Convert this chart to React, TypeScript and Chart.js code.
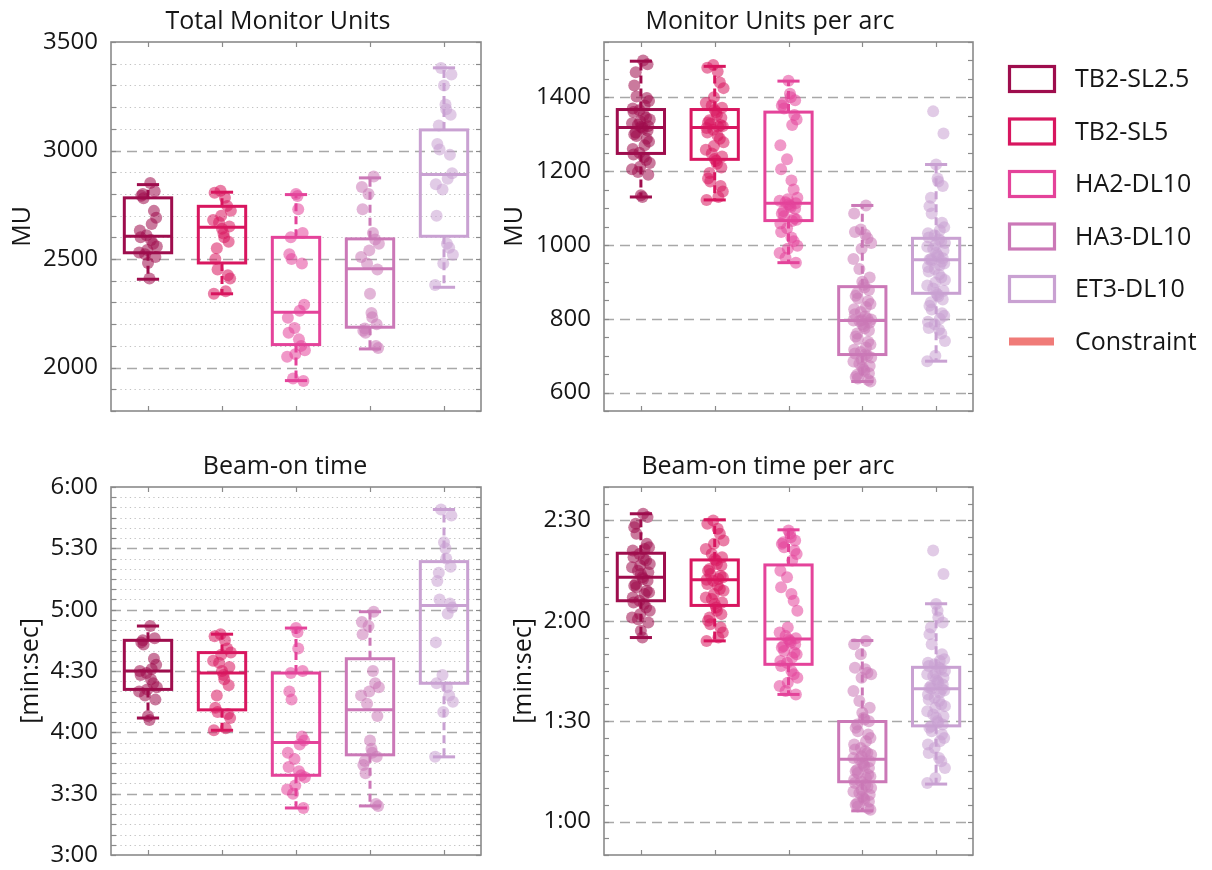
import { useEffect, useRef } from "react";
import { Chart, registerables } from "chart.js";

Chart.register(...registerables);

// ---------- groups ----------
const groupNames = ["TB2-SL2.5", "TB2-SL5", "HA2-DL10", "HA3-DL10", "ET3-DL10"];
const groupColors = ["#9e0d4d", "#d8165f", "#e4439a", "#cb78b7", "#c9a1d2"];
const constraintName = "Constraint";
const constraintColor = "#f07b78";

// ---------- Total Monitor Units (per plan) ----------
const totalMuTB2SL25 = [2850, 2812, 2800, 2792, 2780, 2722, 2690, 2662, 2632, 2610, 2600, 2588, 2570, 2558, 2542, 2530, 2522, 2510, 2482, 2410];
const totalMuTB2SL5 = [2815, 2805, 2782, 2745, 2722, 2700, 2680, 2668, 2650, 2640, 2618, 2600, 2580, 2550, 2500, 2452, 2425, 2410, 2352, 2340];
const totalMuHA2DL10 = [2800, 2790, 2730, 2620, 2600, 2522, 2500, 2480, 2290, 2262, 2230, 2182, 2160, 2130, 2100, 2080, 2062, 2050, 1950, 1938];
const totalMuHA3DL10 = [2880, 2832, 2800, 2730, 2620, 2590, 2570, 2540, 2510, 2480, 2452, 2340, 2252, 2232, 2200, 2180, 2170, 2160, 2100, 2090];
const totalMuET3DL10 = [3380, 3350, 3300, 3212, 3190, 3165, 3115, 3030, 3005, 2980, 2895, 2870, 2845, 2820, 2700, 2570, 2552, 2520, 2480, 2380];
const totalMuLower = [2407, 2340, 1940, 2086, 2370];
const totalMuQ1 = [2529, 2482, 2106, 2186, 2605];
const totalMuMedian = [2605, 2647, 2255, 2455, 2889];
const totalMuQ3 = [2782, 2743, 2600, 2593, 3095];
const totalMuUpper = [2843, 2808, 2797, 2874, 3381];
const totalMuTicks = [2000, 2500, 3000, 3500];
const totalMuTickLabels = ["2000", "2500", "3000", "3500"];

// ---------- Monitor Units per arc ----------
const arcMuTB2SL25 = [
  1500, 1490, 1468, 1432, 1402, 1398, 1390, 1378, 1370, 1365,
  1360, 1352, 1345, 1340, 1335, 1330, 1326, 1322, 1320, 1318,
  1315, 1310, 1305, 1300, 1295, 1288, 1280, 1270, 1260, 1250,
  1245, 1238, 1230, 1222, 1212, 1205, 1198, 1190, 1135, 1130,
];
const arcMuTB2SL5 = [
  1488, 1480, 1470, 1440, 1425, 1400, 1385, 1378, 1372, 1366,
  1360, 1352, 1345, 1338, 1332, 1328, 1325, 1322, 1320, 1317,
  1312, 1305, 1296, 1288, 1278, 1268, 1258, 1248, 1240, 1233,
  1228, 1220, 1210, 1195, 1180, 1172, 1160, 1145, 1130, 1122,
];
const arcMuHA2DL10 = [
  1445, 1410, 1400, 1392, 1385, 1378, 1370, 1352, 1340, 1325,
  1270, 1232, 1205, 1175, 1150, 1128, 1124, 1120, 1116, 1113,
  1110, 1106, 1102, 1098, 1092, 1085, 1078, 1072, 1068, 1065,
  1058, 1045, 1035, 1020, 1010, 998, 990, 978, 965, 952,
];
const arcMuHA3DL10 = [
  1107, 1085, 1042, 1035, 1028, 1018, 1005, 990, 962, 935,
  912, 900, 892, 885, 878, 870, 862, 855, 848, 840,
  832, 826, 818, 812, 806, 800, 798, 796, 795, 794,
  790, 785, 780, 774, 768, 760, 752, 745, 738, 730,
  722, 716, 710, 706, 703, 700, 695, 690, 684, 678,
  672, 668, 662, 658, 652, 648, 642, 638, 634, 630,
];
const arcMuET3DL10 = [
  1362, 1302, 1218, 1180, 1172, 1160, 1128, 1105, 1085, 1060,
  1048, 1040, 1032, 1026, 1020, 1015, 1010, 1005, 1000, 995,
  990, 985, 978, 972, 968, 964, 962, 960, 958, 955,
  950, 945, 940, 935, 928, 920, 912, 905, 898, 890,
  882, 876, 870, 866, 860, 852, 845, 835, 825, 815,
  808, 800, 792, 785, 775, 770, 760, 740, 700, 685,
];
const arcMuLower = [1130, 1122, 952, 630, 685];
const arcMuQ1 = [1248, 1232, 1066, 703, 869];
const arcMuMedian = [1318, 1318, 1113, 795, 960];
const arcMuQ3 = [1367, 1367, 1360, 887, 1018];
const arcMuUpper = [1498, 1484, 1444, 1107, 1218];
const arcMuTicks = [600, 800, 1000, 1200, 1400];
const arcMuTickLabels = ["600", "800", "1000", "1200", "1400"];

// ---------- Beam-on time (seconds, per plan) ----------
const beamTB2SL25 = [292, 286, 285, 284, 283, 276, 273, 271, 270, 269, 268, 266, 264, 262, 261, 260, 258, 256, 248, 246];
const beamTB2SL5 = [288, 287, 285, 281, 279, 278, 275, 274, 272, 270, 268, 266, 263, 258, 252, 250, 249, 247, 242, 241];
const beamHA2DL10 = [291, 289, 281, 270, 269, 260, 256, 238, 236, 234, 230, 227, 223, 221, 219, 218, 214, 212, 210, 203];
const beamHA3DL10 = [299, 294, 292, 288, 270, 264, 262, 260, 258, 254, 248, 236, 232, 230, 228, 226, 224, 220, 205, 204];
const beamET3DL10 = [349, 346, 333, 330, 325, 321, 318, 314, 305, 303, 301, 298, 284, 268, 264, 262, 258, 255, 250, 228];
const beamLower = [247, 241, 203, 204, 228];
const beamQ1 = [261, 251, 219, 229, 264];
const beamMedian = [270, 269, 235, 251, 302];
const beamQ3 = [285, 279, 269, 276, 323.5];
const beamUpper = [292, 288, 291, 299, 349];
const beamTicks = [180, 210, 240, 270, 300, 330, 360];
const beamTickLabels = ["3:00", "3:30", "4:00", "4:30", "5:00", "5:30", "6:00"];

// ---------- Beam-on time per arc (seconds) ----------
const arcBeamTB2SL25 = [
  152, 151, 149, 148, 146, 143, 142, 141.5, 141, 140,
  139, 138.5, 138, 137, 136.5, 136, 135, 134.5, 134, 133,
  132.5, 132, 131, 130.5, 130, 129, 128.5, 128, 127, 126,
  125.5, 125, 124, 123, 122, 121, 120.5, 119.5, 117, 115,
];
const arcBeamTB2SL5 = [
  150, 149, 147.5, 146, 144, 143, 141.5, 140, 139, 138.5,
  138, 137, 136.5, 135.5, 135, 134, 133.5, 133, 132.5, 132.3,
  132, 131, 130.5, 129.5, 129, 128, 127, 126.5, 125.5, 125,
  124, 123, 122, 121, 120, 119, 118, 116.5, 115, 114,
];
const arcBeamHA2DL10 = [
  147, 146, 145, 144, 143.5, 143, 142, 141, 140, 138,
  135, 133, 130, 128, 126, 123, 118, 116.5, 115.5, 114.8,
  114.5, 114, 113.5, 113, 112.5, 112, 111, 110.5, 110, 109,
  108, 107.5, 106.5, 105, 104, 103, 101.5, 100.5, 99, 98,
];
const arcBeamHA3DL10 = [
  114, 113, 110, 106, 105.5, 104.5, 104, 103, 99, 96,
  94, 92.5, 91, 90.5, 90, 89, 88, 87, 86, 85,
  84, 83, 82, 81.5, 81, 80.5, 80, 79.5, 79, 78.6,
  78, 77.5, 77, 76.5, 76, 75.5, 75, 74.5, 74, 73.5,
  73, 72.5, 72, 71.5, 71, 70.5, 70, 69.5, 69, 68.5,
  68, 67.5, 67, 66.5, 66, 65.5, 65, 64.5, 64, 63.5,
];
const arcBeamET3DL10 = [
  141, 134, 125, 123, 121, 119.5, 118, 116, 113, 110,
  108.5, 108, 107.5, 107, 106.5, 106, 105.5, 105, 104.5, 104,
  103.5, 103, 102.5, 102, 101.5, 101, 100.5, 100, 99.8, 99.6,
  99.2, 98.5, 98, 97, 96.5, 96, 95, 94.5, 94, 93,
  92, 91.5, 91, 90, 89.5, 89, 88.5, 88, 87, 86,
  85, 84, 83, 82, 80.5, 79, 78, 76, 73, 71.5,
];
const arcBeamLower = [115, 114, 98, 63.2, 71.2];
const arcBeamQ1 = [126, 124.6, 107, 71.9, 88.6];
const arcBeamMedian = [133, 132.3, 114.6, 78.6, 99.7];
const arcBeamQ3 = [140.2, 138.2, 136.7, 89.9, 106.1];
const arcBeamUpper = [152, 150.2, 147.2, 114.1, 125.1];
const arcBeamTicks = [60, 90, 120, 150];
const arcBeamTickLabels = ["1:00", "1:30", "2:00", "2:30"];

// horizontal spread of the individual points around each box centre
const jitter = [0.03, -0.09, 0.11, -0.02, 0.07, -0.12, 0.0, 0.09, -0.06, 0.05, -0.1, 0.12, -0.04, 0.02, -0.07, 0.08, -0.11, 0.04, -0.01, 0.1];

const FONT = "'Open Sans', 'Noto Sans', sans-serif";
const TEXT = "#161616";

type Panel = {
  title: string;
  titleX: number;
  titleY: number;
  yTitle: string;
  yTitlePad: number;
  min: number;
  max: number;
  minorStep: number;
  ticks: number[];
  tickLabels: string[];
  dotted: boolean;
  series: number[][];
  lower: number[];
  q1: number[];
  median: number[];
  q3: number[];
  upper: number[];
  left: number;
  top: number;
  width: number;
  height: number;
  area: { left: number; top: number; right: number; bottom: number };
  legend?: boolean;
};

const panels: Panel[] = [
  {
    title: "Total Monitor Units", titleX: 278, titleY: 29,
    yTitle: "MU", yTitlePad: 8,
    min: 1800, max: 3500, minorStep: 100,
    ticks: totalMuTicks, tickLabels: totalMuTickLabels, dotted: true,
    series: [totalMuTB2SL25, totalMuTB2SL5, totalMuHA2DL10, totalMuHA3DL10, totalMuET3DL10],
    lower: totalMuLower, q1: totalMuQ1, median: totalMuMedian, q3: totalMuQ3, upper: totalMuUpper,
    left: 0, top: 0, width: 500, height: 435,
    area: { left: 111, top: 42, right: 481, bottom: 411 },
  },
  {
    title: "Monitor Units per arc", titleX: 270, titleY: 29,
    yTitle: "MU", yTitlePad: 0,
    min: 550, max: 1550, minorStep: 50,
    ticks: arcMuTicks, tickLabels: arcMuTickLabels, dotted: false,
    series: [arcMuTB2SL25, arcMuTB2SL5, arcMuHA2DL10, arcMuHA3DL10, arcMuET3DL10],
    lower: arcMuLower, q1: arcMuQ1, median: arcMuMedian, q3: arcMuQ3, upper: arcMuUpper,
    left: 500, top: 0, width: 712, height: 435,
    area: { left: 104, top: 42, right: 473, bottom: 411 },
    legend: true,
  },
  {
    title: "Beam-on time", titleX: 285, titleY: 39,
    yTitle: "[min:sec]", yTitlePad: 16,
    min: 180, max: 360, minorStep: 5,
    ticks: beamTicks, tickLabels: beamTickLabels, dotted: true,
    series: [beamTB2SL25, beamTB2SL5, beamHA2DL10, beamHA3DL10, beamET3DL10],
    lower: beamLower, q1: beamQ1, median: beamMedian, q3: beamQ3, upper: beamUpper,
    left: 0, top: 435, width: 500, height: 435,
    area: { left: 111, top: 52, right: 481, bottom: 420 },
  },
  {
    title: "Beam-on time per arc", titleX: 268, titleY: 39,
    yTitle: "[min:sec]", yTitlePad: 9,
    min: 50, max: 160, minorStep: 5,
    ticks: arcBeamTicks, tickLabels: arcBeamTickLabels, dotted: false,
    series: [arcBeamTB2SL25, arcBeamTB2SL5, arcBeamHA2DL10, arcBeamHA3DL10, arcBeamET3DL10],
    lower: arcBeamLower, q1: arcBeamQ1, median: arcBeamMedian, q3: arcBeamQ3, upper: arcBeamUpper,
    left: 500, top: 435, width: 712, height: 435,
    area: { left: 104, top: 52, right: 473, bottom: 420 },
  },
];

function rgba(hex: string, a: number) {
  const n = parseInt(hex.slice(1), 16);
  return `rgba(${(n >> 16) & 255}, ${(n >> 8) & 255}, ${n & 255}, ${a})`;
}

// grid, boxes, frame, titles and legend for one panel
function decorPlugin(p: Panel) {
  const hLine = (ctx: CanvasRenderingContext2D, x0: number, x1: number, y: number) => {
    ctx.beginPath();
    ctx.moveTo(x0, y);
    ctx.lineTo(x1, y);
    ctx.stroke();
  };
  const vLine = (ctx: CanvasRenderingContext2D, x: number, y0: number, y1: number) => {
    ctx.beginPath();
    ctx.moveTo(x, y0);
    ctx.lineTo(x, y1);
    ctx.stroke();
  };
  const steps = () => {
    const out: number[] = [];
    const n = Math.round((p.max - p.min) / p.minorStep);
    for (let k = 0; k <= n; k++) out.push(p.min + k * p.minorStep);
    return out;
  };
  return {
    id: "panelDecor",
    beforeDatasetsDraw(chart: any) {
      const { ctx, chartArea: a, scales } = chart;
      const x = scales.x;
      const y = scales.y;
      ctx.save();
      // grid lines
      for (const v of steps()) {
        if (v <= p.min || v >= p.max) continue;
        const yy = Math.round(y.getPixelForValue(v)) + 0.5;
        if (p.ticks.includes(v)) {
          ctx.strokeStyle = "#a8a8a8";
          ctx.lineWidth = 1.3;
          ctx.setLineDash([10, 6]);
          hLine(ctx, a.left, a.right, yy);
        } else if (p.dotted) {
          ctx.strokeStyle = "#c2c2c2";
          ctx.lineWidth = 1.2;
          ctx.setLineDash([1.3, 3.4]);
          hLine(ctx, a.left, a.right, yy);
        }
      }
      // box plots
      ctx.lineWidth = 3;
      p.series.forEach((_, g) => {
        const c = g + 1;
        ctx.strokeStyle = groupColors[g];
        const xl = x.getPixelForValue(c - 0.32);
        const xr = x.getPixelForValue(c + 0.32);
        const xm = x.getPixelForValue(c);
        const cl = x.getPixelForValue(c - 0.15);
        const cr = x.getPixelForValue(c + 0.15);
        const yq1 = y.getPixelForValue(p.q1[g]);
        const yq3 = y.getPixelForValue(p.q3[g]);
        const ymed = y.getPixelForValue(p.median[g]);
        const ylo = y.getPixelForValue(p.lower[g]);
        const yhi = y.getPixelForValue(p.upper[g]);
        ctx.setLineDash([8, 5]);
        vLine(ctx, xm, yq3, yhi);
        vLine(ctx, xm, yq1, ylo);
        ctx.setLineDash([]);
        hLine(ctx, cl, cr, yhi);
        hLine(ctx, cl, cr, ylo);
        ctx.strokeRect(xl, yq3, xr - xl, yq1 - yq3);
        hLine(ctx, xl, xr, ymed);
      });
      ctx.restore();
    },
    afterDraw(chart: any) {
      const { ctx, chartArea: a, scales } = chart;
      const x = scales.x;
      const y = scales.y;
      ctx.save();
      ctx.setLineDash([]);
      ctx.strokeStyle = "#8a8a8a";
      ctx.lineWidth = 1.2;
      // inward tick marks
      for (const v of steps()) {
        const yy = Math.round(y.getPixelForValue(v)) + 0.5;
        hLine(ctx, a.left, a.left + 5, yy);
        hLine(ctx, a.right - 5, a.right, yy);
      }
      p.series.forEach((_, g) => {
        const xx = Math.round(x.getPixelForValue(g + 1)) + 0.5;
        vLine(ctx, xx, a.top, a.top + 5);
        vLine(ctx, xx, a.bottom - 5, a.bottom);
      });
      // frame
      ctx.lineWidth = 1.6;
      ctx.strokeRect(a.left, a.top, a.right - a.left, a.bottom - a.top);
      // panel title
      ctx.fillStyle = TEXT;
      ctx.font = `25px ${FONT}`;
      ctx.textAlign = "center";
      ctx.textBaseline = "alphabetic";
      ctx.fillText(p.title, p.titleX, p.titleY);
      // legend
      if (p.legend) {
        const rowY = (i: number) => 79 + i * 52.5;
        ctx.textAlign = "left";
        ctx.textBaseline = "middle";
        groupNames.forEach((name, i) => {
          ctx.strokeStyle = groupColors[i];
          ctx.lineWidth = 3.2;
          ctx.strokeRect(509.5, rowY(i) - 12.5, 45, 25);
          ctx.fillStyle = TEXT;
          ctx.fillText(name, 575, rowY(i) + 1);
        });
        const cy = rowY(groupNames.length);
        ctx.strokeStyle = constraintColor;
        ctx.lineWidth = 8;
        hLine(ctx, 509, 554, cy);
        ctx.fillStyle = TEXT;
        ctx.fillText(constraintName, 575, cy + 1);
      }
      ctx.restore();
    },
  };
}

function PanelChart({ panel }: { panel: Panel }) {
  const ref = useRef<HTMLCanvasElement>(null);
  useEffect(() => {
    const p = panel;
    const chart = new Chart(ref.current as HTMLCanvasElement, {
      type: "scatter",
      data: {
        datasets: p.series.map((vals, g) => ({
          label: groupNames[g],
          data: vals.map((v, i) => ({ x: g + 1 + jitter[(i * 7 + g * 3) % jitter.length], y: v })),
          backgroundColor: rgba(groupColors[g], 0.55),
          borderWidth: 0,
          pointRadius: 6,
          pointHoverRadius: 6,
        })),
      },
      options: {
        responsive: false,
        animation: false,
        events: [],
        layout: {
          padding: {
            left: 0,
            top: p.area.top,
            right: p.width - p.area.right,
            bottom: p.height - p.area.bottom,
          },
        },
        plugins: {
          legend: { display: false },
          tooltip: { enabled: false },
          title: { display: false },
        },
        scales: {
          x: { type: "linear", min: 0.5, max: 5.5, display: false },
          y: {
            type: "linear",
            min: p.min,
            max: p.max,
            afterFit: (s: any) => {
              s.width = p.area.left;
              s.paddingTop = 0;
              s.paddingBottom = 0;
            },
            afterBuildTicks: (s: any) => {
              s.ticks = p.ticks.map((value) => ({ value }));
            },
            ticks: {
              autoSkip: false,
              padding: 13,
              color: TEXT,
              font: { family: FONT, size: 24 },
              callback: (_v: any, i: number) => p.tickLabels[i],
            },
            grid: { display: false, drawTicks: false },
            border: { display: false },
            title: {
              display: true,
              text: p.yTitle,
              color: TEXT,
              font: { family: FONT, size: 25 },
              padding: { top: p.yTitlePad, bottom: 0 },
            },
          },
        },
      },
      plugins: [decorPlugin(p)],
    } as any);
    return () => chart.destroy();
  }, [panel]);
  return (
    <canvas
      ref={ref}
      width={panel.width}
      height={panel.height}
      style={{ position: "absolute", left: panel.left, top: panel.top, width: panel.width, height: panel.height }}
    />
  );
}

export default function App() {
  return (
    <div style={{ position: "absolute", left: 0, top: 0, width: 1212, height: 870, background: "#ffffff" }}>
      {panels.map((p) => (
        <PanelChart key={p.title} panel={p} />
      ))}
    </div>
  );
}
